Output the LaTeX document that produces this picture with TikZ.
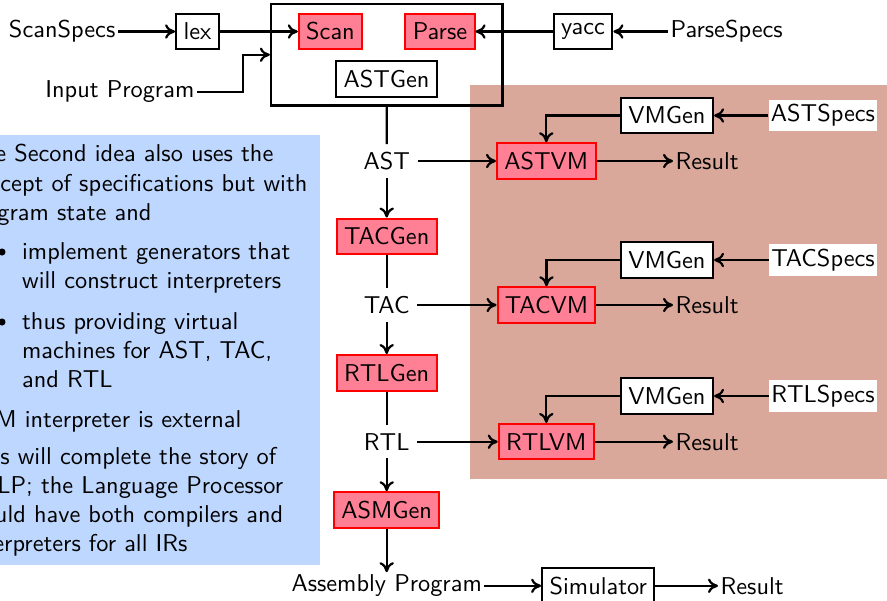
\documentclass[tikz,border=0pt]{standalone}
\usepackage{fontspec}
\usetikzlibrary{arrows.meta}
\definecolor{boxpink}{RGB}{255,128,148}
\definecolor{regionbrown}{RGB}{217,168,154}
\definecolor{noteblue}{RGB}{190,215,255}
\begin{document}
\begin{tikzpicture}[x=0.45pt,y=-0.45pt,
  every node/.style={font=\sffamily\fontsize{10.95}{13.6}\selectfont},
  gen/.style={draw=red,line width=0.9pt,fill=boxpink,minimum height=16pt},
  plain/.style={draw,line width=1pt,fill=white,minimum height=16pt},
  lbl/.style={inner sep=1pt},
  specs/.style={fill=white,inner xsep=1pt,inner ysep=2pt},
  line/.style={line width=1pt},
  arr/.style={line width=1pt,-{Computer Modern Rightarrow[length=4.5pt,width=6.5pt]}},
  txt/.style={anchor=base west,inner sep=0pt}]
\useasboundingbox (0,0) rectangle (887,601);
\begin{scope}
\clip (0,0) rectangle (887,601);
% backgrounds
\fill[regionbrown] (470,85) rectangle (900,478.5);
\fill[noteblue] (-10,135) rectangle (320,565);
% note text
\node[txt] (n1) at (-5,161.5) {e Second idea also uses the};
\node[txt] (n2) at (0,191) {cept of specifications but with};
\node[txt] (n3) at (-3,220.5) {gram state and};
\fill (2,252) circle[radius=1.6pt];
\node[txt] (n4) at (21.7,259.3) {implement generators that};
\node[txt] (n5) at (21.7,288.7) {will construct interpreters};
\fill (2,322) circle[radius=1.6pt];
\node[txt] (n6) at (21.7,329) {thus providing virtual};
\node[txt] (n7) at (21.7,358) {machines for AST, TAC,};
\node[txt] (n8) at (21.7,387) {and RTL};
\node[txt] (n9) at (-5,427.7) {M interpreter is external};
\node[txt] (n10) at (0,464) {s will complete the story of};
\node[txt] (n11) at (-3,493) {LP; the Language Processor};
\node[txt] (n12) at (-5.5,522) {uld have both compilers and};
\node[txt] (n13) at (-7,551) {erpreters for all IRs};
% front end
\node[draw,line width=1pt,minimum width=104.2pt,minimum height=45.7pt] (bigbox) at (386.75,54.75) {};
\node[lbl,anchor=east] (scanspecs) at (118,31.5) {ScanSpecs};
\node[plain] (lex) at (197.5,31.5) {lex};
\node[gen] (scan) at (330.5,31.5) {Scan};
\node[gen] (parse) at (440,31.5) {Parse};
\node[plain] (astgen) at (386.5,79) {ASTGen};
\node[plain] (yacc) at (583,31.5) {yacc};
\node[lbl,anchor=west] (parsespecs) at (668,31.5) {ParseSpecs};
\node[lbl,anchor=east] (inprog) at (197,92) {Input Program};
% middle chain
\node (ast) at (386.7,161) {AST};
\node[gen] (tacgen) at (386.7,236.3) {TACGen};
\node (tac) at (386.7,305) {TAC};
\node[gen] (rtlgen) at (386.7,372.8) {RTLGen};
\node (rtl) at (386.7,441.7) {RTL};
\node[gen] (asmgen) at (386.7,510) {ASMGen};
\node[lbl] (asmprog) at (386.7,585.8) {Assembly Program};
\node[plain] (sim) at (598.3,585.8) {Simulator};
\node[lbl,anchor=west] (res4) at (718,585.8) {Result};
% virtual machines
\node[gen] (astvm) at (546.3,161) {ASTVM};
\node[lbl,anchor=west] (res1) at (673,161) {Result};
\node[plain] (vmg1) at (667,115.5) {VMGen};
\node[specs] (astspecs) at (823,115.5) {ASTSpecs};
\node[gen] (tacvm) at (546.5,305) {TACVM};
\node[lbl,anchor=west] (res2) at (673,305) {Result};
\node[plain] (vmg2) at (667,260) {VMGen};
\node[specs] (tacspecs) at (823,260) {TACSpecs};
\node[gen] (rtlvm) at (546.3,441.7) {RTLVM};
\node[lbl,anchor=west] (res3) at (673,441.7) {Result};
\node[plain] (vmg3) at (667,396) {VMGen};
\node[specs] (rtlspecs) at (823,396) {RTLSpecs};
% connectors
\draw[arr] (scanspecs.east) -- (lex.west);
\draw[arr] (lex.east) -- (scan.west);
\draw[arr] (inprog.east) -- ++(46,0) |- (bigbox.west);
\draw[arr] (yacc.west) -- (parse.east);
\draw[arr] (parsespecs.west) -- (yacc.east);
\draw[line] (bigbox.south) -- (ast.north);
\draw[arr] (ast) -- (tacgen);
\draw[line] (tacgen) -- (tac);
\draw[arr] (tac) -- (rtlgen);
\draw[line] (rtlgen) -- (rtl);
\draw[arr] (rtl) -- (asmgen);
\draw[arr] (asmgen) -- (asmprog);
\draw[arr] (asmprog.east) -- (sim.west);
\draw[arr] (sim.east) -- (res4.west);
\draw[arr] (ast.east) -- (astvm.west);
\draw[arr] (astvm.east) -- (res1.west);
\draw[arr] (astspecs.west) -- (vmg1.east);
\draw[arr] (vmg1.west) -| (astvm.north);
\draw[arr] (tac.east) -- (tacvm.west);
\draw[arr] (tacvm.east) -- (res2.west);
\draw[arr] (tacspecs.west) -- (vmg2.east);
\draw[arr] (vmg2.west) -| (tacvm.north);
\draw[arr] (rtl.east) -- (rtlvm.west);
\draw[arr] (rtlvm.east) -- (res3.west);
\draw[arr] (rtlspecs.west) -- (vmg3.east);
\draw[arr] (vmg3.west) -| (rtlvm.north);
\end{scope}
\end{tikzpicture}
\end{document}
